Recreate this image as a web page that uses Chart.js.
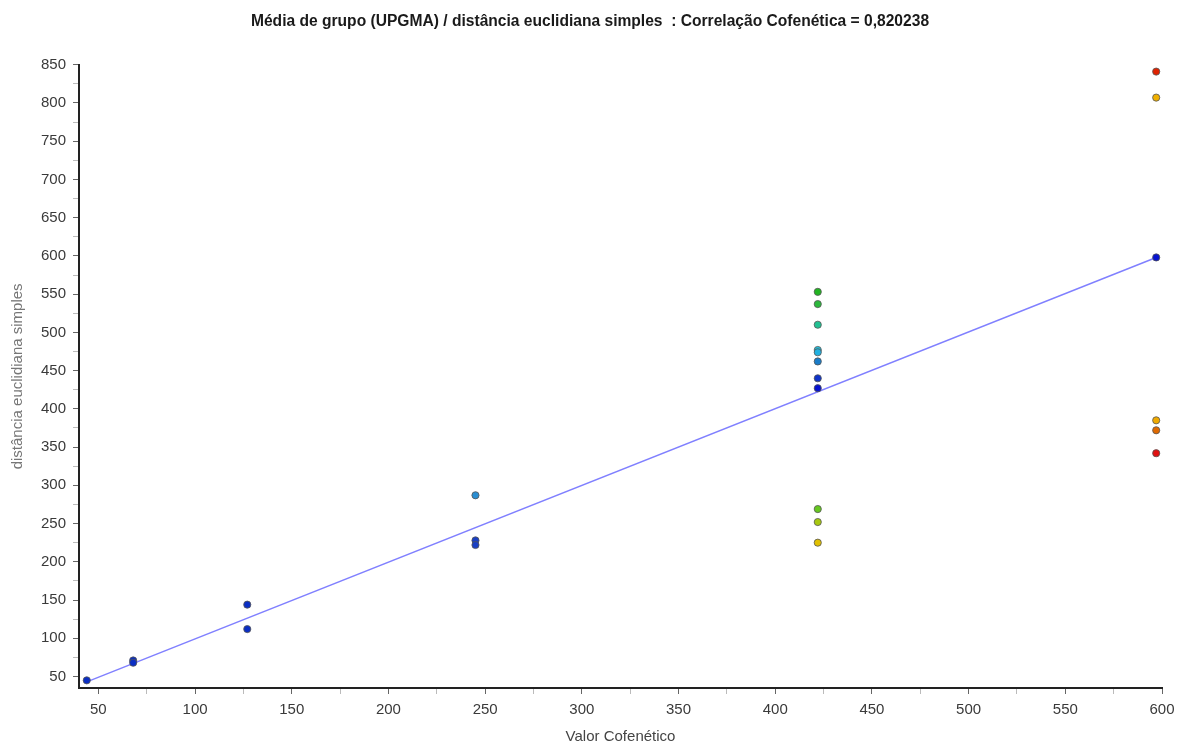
<!DOCTYPE html>
<html>
<head>
<meta charset="utf-8">
<script src="https://cdn.jsdelivr.net/npm/chart.js@4.4.1/dist/chart.umd.min.js"></script>
<style>
  body { margin: 0; background: #fff; }
  #wrap { width: 1177px; height: 747px; }
</style>
</head>
<body>
<div id="wrap"><canvas id="chart"></canvas></div>
<script>
// cophenetic value (x) vs simple euclidean distance (y)
var cophValues = [44, 68, 68, 127, 127, 245, 245, 245,
  422, 422, 422, 422, 422, 422, 422, 422, 422, 422, 422,
  597, 597, 597, 597, 597, 597];
var distValues = [45, 71, 68, 144, 112, 287, 228, 222,
  553, 537, 510, 477, 474, 462, 440, 427, 269, 252, 225,
  841, 807, 598, 385, 372, 342];
var pointColors = ['#0a2ec4', '#0a2ec4', '#0a2ec4', '#0a2ec4', '#0a2ec4', '#2a8ed2', '#1a40c4', '#1a40c4',
  '#22b422', '#2cb83c', '#22c092', '#22c0dc', '#20b0e0', '#1a7cc8', '#1034c8', '#0612d0', '#66c820', '#a8c810', '#e0c000',
  '#e02200', '#f0b000', '#0612d0', '#f0aa00', '#e06a00', '#e01010'];

// fitted line
var fitX = [44, 597];
var fitY = [43, 598];

var xMajor = [50, 100, 150, 200, 250, 300, 350, 400, 450, 500, 550, 600];
var yMajor = [50, 100, 150, 200, 250, 300, 350, 400, 450, 500, 550, 600, 650, 700, 750, 800, 850];

function withMinor(major) {
  var out = [];
  for (var i = 0; i < major.length; i++) {
    out.push(major[i]);
    if (i < major.length - 1) out.push((major[i] + major[i + 1]) / 2);
  }
  return out;
}

var points = cophValues.map(function (x, i) { return { x: x, y: distValues[i] }; });
var line = fitX.map(function (x, i) { return { x: x, y: fitY[i] }; });

Chart.defaults.font.family = '"Liberation Sans", Arial, sans-serif';
Chart.defaults.color = '#3a3a3a';

function tickColor(c) { return c.tick && c.tick.value % 50 === 0 ? '#666' : '#bbb'; }

new Chart(document.getElementById('chart'), {
  type: 'scatter',
  data: {
    datasets: [
      {
        data: points,
        backgroundColor: pointColors,
        borderColor: '#555',
        borderWidth: 0.8,
        pointRadius: 3.6,
        pointHoverRadius: 3.6
      },
      {
        type: 'line',
        data: line,
        borderColor: '#8080ff',
        borderWidth: 1.5,
        pointRadius: 0,
        fill: false
      }
    ]
  },
  options: {
    responsive: true,
    maintainAspectRatio: false,
    animation: false,
    layout: { padding: { left: 3, right: 0, top: 0, bottom: 0 } },
    plugins: {
      legend: { display: false },
      tooltip: { enabled: false },
      title: {
        display: true,
        text: 'Média de grupo (UPGMA) / distância euclidiana simples  : Correlação Cofenética = 0,820238',
        color: '#1a1a1a',
        font: { size: 15.6, weight: 'bold' },
        padding: { top: 12, bottom: 34 }
      }
    },
    scales: {
      x: {
        type: 'linear',
        min: 40,
        max: 600,
        afterBuildTicks: function (s) { s.ticks = withMinor(xMajor).map(function (v) { return { value: v }; }); },
        afterFit: function (s) { s.paddingRight = 15; },
        ticks: {
          autoSkip: false,
          maxRotation: 0,
          padding: 7,
          font: { size: 15 },
          callback: function (v) { return v % 50 === 0 ? v : ''; }
        },
        grid: { drawOnChartArea: false, drawTicks: true, tickLength: 6, color: tickColor },
        border: { color: '#222', width: 2 },
        title: {
          display: true,
          text: 'Valor Cofenético',
          color: '#444',
          font: { size: 15 },
          padding: { top: 2, bottom: 1 }
        }
      },
      y: {
        type: 'linear',
        min: 35,
        max: 850,
        afterBuildTicks: function (s) { s.ticks = withMinor(yMajor).map(function (v) { return { value: v }; }); },
        ticks: {
          autoSkip: false,
          padding: 7,
          font: { size: 15 },
          callback: function (v) { return v % 50 === 0 ? v : ''; }
        },
        grid: { drawOnChartArea: false, drawTicks: true, tickLength: 6, color: tickColor },
        border: { color: '#222', width: 2 },
        title: {
          display: true,
          text: 'distância euclidiana simples',
          color: '#777',
          font: { size: 15 },
          padding: { top: 6, bottom: 7 }
        }
      }
    }
  }
});
</script>
</body>
</html>
